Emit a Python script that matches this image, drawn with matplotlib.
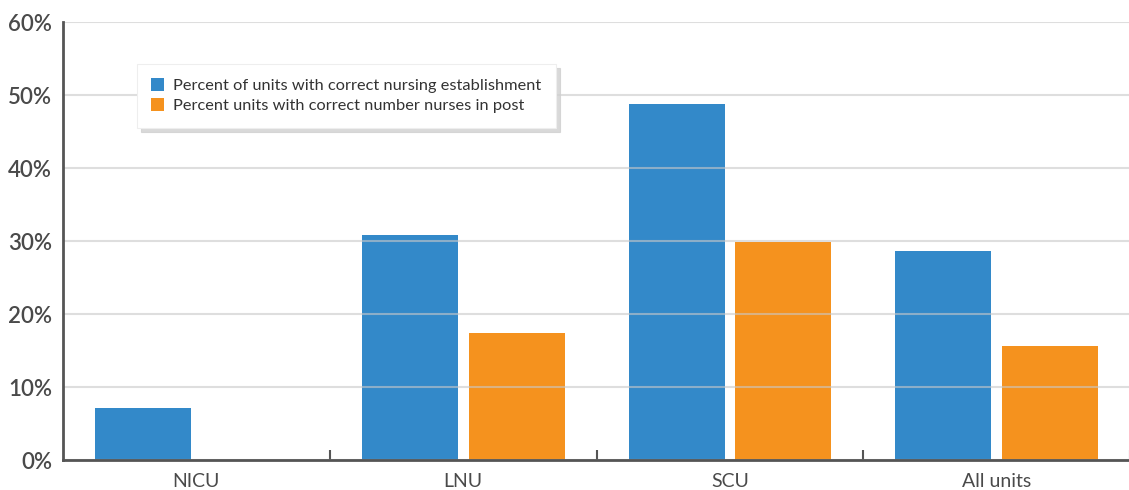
import numpy as np
import matplotlib.pyplot as plt
from matplotlib.ticker import PercentFormatter, FixedLocator

# unit types and percentages
units = ['NICU', 'LNU', 'SCU', 'All units']
establishment = [7.1, 30.8, 48.8, 28.6]
nurses_in_post = [0.0, 17.4, 29.9, 15.6]
labels = ['Percent of units with correct nursing establishment',
          'Percent units with correct number nurses in post']

plt.rcParams['font.family'] = ['Lato', 'DejaVu Sans']

fig = plt.figure(figsize=(11.29, 4.9), dpi=100)
ax = fig.add_axes([0.0558, 0.0612, 0.9452, 0.8938])

x = np.arange(len(units))
w = 0.36
ax.bar(x - 0.2, establishment, w, color='#3389c9', label=labels[0], zorder=2)
ax.bar(x + 0.2, nurses_in_post, w, color='#f5921e', label=labels[1], zorder=2)

ax.set_xlim(-0.5, 3.5)
ax.set_ylim(0, 60)
ax.set_yticks(range(0, 61, 10))
ax.yaxis.set_major_formatter(PercentFormatter(decimals=0))
ax.set_xticks(x)
ax.set_xticklabels(units)
ax.xaxis.set_minor_locator(FixedLocator([0.5, 1.5, 2.5, 3.5]))

ax.tick_params(axis='y', length=0, labelsize=16, labelcolor='#4a4a4a', pad=8)
ax.tick_params(axis='x', which='major', length=0, labelsize=14, labelcolor='#4a4a4a', pad=9)
ax.tick_params(axis='x', which='minor', direction='in', length=7, width=1.5, color='#555555')
for t in ax.get_yticklabels():
    t.set_fontweight('semibold')

# light grid lines drawn over the bars
ax.grid(axis='y', color='#c8c8c8', alpha=0.6, linewidth=1.5, zorder=3)
ax.set_axisbelow(False)

for s in ['top', 'right']:
    ax.spines[s].set_visible(False)
for s in ['left', 'bottom']:
    ax.spines[s].set_color('#555555')
    ax.spines[s].set_linewidth(2)
    ax.spines[s].set_zorder(4)

leg = ax.legend(loc='upper left', bbox_to_anchor=(0.069, 0.905), borderaxespad=0,
                frameon=True, fancybox=False,
                shadow={'color': '#d0d0d0', 'alpha': 0.8, 'ox': 3, 'oy': -3},
                fontsize=11.8, handlelength=0.8, handleheight=0.8,
                handletextpad=0.5, borderpad=0.9, labelspacing=0.3,
                labelcolor='#333333')
leg.get_frame().set_edgecolor('#eeeeee')
leg.get_frame().set_linewidth(0.8)

fig.savefig('out.png', dpi=100)
